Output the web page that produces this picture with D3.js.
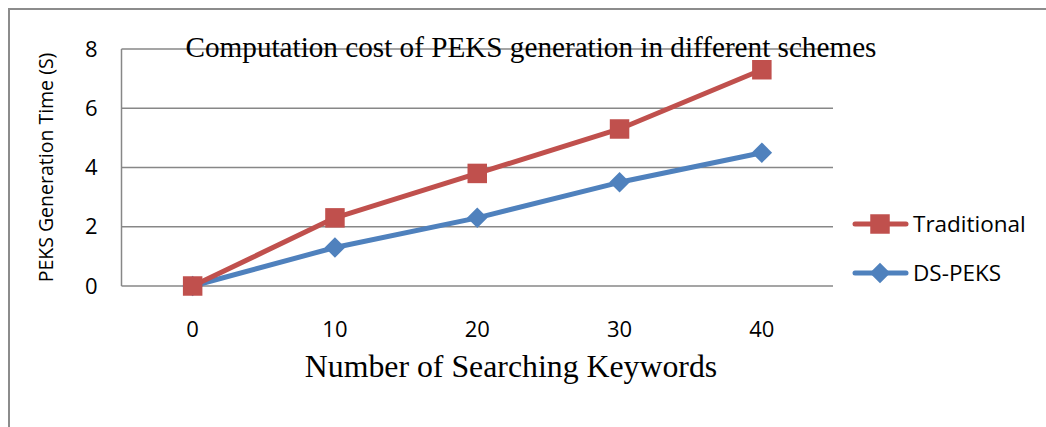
<!DOCTYPE html>
<html><head><meta charset="utf-8">
<script src="https://cdn.jsdelivr.net/npm/d3@7"></script>
<style>body{margin:0;background:#fff}svg{display:block}</style>
</head><body>
<script>
const categories = [0, 10, 20, 30, 40];
const traditional = [0, 2.3, 3.8, 5.3, 7.3];
const dsPeks = [0, 1.3, 2.3, 3.5, 4.5];
const yTicks = [0, 2, 4, 6, 8];
const seriesNames = ["Traditional", "DS-PEKS"];
const titleText = "Computation cost of PEKS generation in different schemes";
const xLabel = "Number of Searching Keywords";
const yLabel = "PEKS Generation Time (S)";

(function () {
const W = 1046, H = 427;
const svg = d3.select("body").append("svg").attr("width", W).attr("height", H);
svg.append("rect").attr("width", W).attr("height", H).attr("fill", "#fff");
svg.append("rect").attr("x", 9).attr("y", 9).attr("width", 1200).attr("height", 600)
  .attr("fill", "none").attr("stroke", "#8c8c8c").attr("stroke-width", 2);

const pl = 121.5, pr = 833, pt = 49, pb = 286;
const x = d3.scaleBand().domain(categories).range([pl, pr]);
const y = d3.scaleLinear().domain([0, 8]).range([pb, pt]);
const sans = "'Open Sans', 'Noto Sans', sans-serif";
const serif = "'Liberation Serif', 'Times New Roman', serif";

svg.append("g").selectAll("line").data(yTicks).join("line")
  .attr("x1", pl).attr("x2", pr).attr("y1", d => y(d)).attr("y2", d => y(d))
  .attr("stroke", "#878787").attr("stroke-width", 1.5);
svg.append("line").attr("x1", pl).attr("x2", pl).attr("y1", pt).attr("y2", pb)
  .attr("stroke", "#878787").attr("stroke-width", 1.5);

const yAxis = d3.axisLeft(y).tickValues(yTicks).tickSize(0).tickPadding(24);
const gy = svg.append("g").attr("transform", `translate(${pl},0)`).call(yAxis);
gy.select(".domain").remove();
gy.selectAll("text").attr("font-family", sans).attr("font-size", 22).attr("fill", "#000");

const xAxis = d3.axisBottom(x).tickSize(0).tickPadding(35);
const gx = svg.append("g").attr("transform", `translate(0,${pb})`).call(xAxis);
gx.select(".domain").remove();
gx.selectAll("text").attr("font-family", sans).attr("font-size", 22).attr("fill", "#000");

svg.append("text").attr("x", 531).attr("y", 57).attr("text-anchor", "middle")
  .attr("font-family", serif).attr("font-size", 29.2).attr("fill", "#000").text(titleText);
svg.append("text").attr("x", 511).attr("y", 377).attr("text-anchor", "middle")
  .attr("font-family", serif).attr("font-size", 31.8).attr("fill", "#000").text(xLabel);
svg.append("text").attr("transform", `translate(53,${(pt + pb) / 2}) rotate(-90)`)
  .attr("text-anchor", "middle").attr("font-family", sans).attr("font-size", 19.5)
  .attr("fill", "#000").text(yLabel);

const colors = ["#C0504D", "#4F81BD"];
const data = [traditional, dsPeks];
const cx = i => x(categories[i]) + x.bandwidth() / 2;
const line = d3.line().x((d, i) => cx(i)).y(d => y(d));

[1, 0].forEach(s => {
  svg.append("path").datum(data[s]).attr("d", line).attr("fill", "none")
    .attr("stroke", colors[s]).attr("stroke-width", 5).attr("stroke-linejoin", "round").attr("stroke-linecap", "round");
});
const sq = d3.symbol().type(d3.symbolSquare).size(380)();
const dm = d3.symbol().type(d3.symbolSquare).size(210)();
const rot = s => s === 1 ? " rotate(45)" : "";
[1, 0].forEach(s => {
  svg.append("g").selectAll("path").data(data[s]).join("path")
    .attr("d", s === 0 ? sq : dm)
    .attr("transform", (d, i) => `translate(${cx(i)},${y(d)})` + rot(s))
    .attr("fill", colors[s]);
});

const legY = [224, 273];
seriesNames.forEach((n, s) => {
  const g = svg.append("g");
  g.append("line").attr("x1", 855).attr("x2", 906).attr("y1", legY[s]).attr("y2", legY[s])
    .attr("stroke", colors[s]).attr("stroke-width", 5).attr("stroke-linecap", "round");
  g.append("path").attr("d", s === 0 ? sq : dm).attr("transform", `translate(880,${legY[s]})` + rot(s)).attr("fill", colors[s]);
  g.append("text").attr("x", 913).attr("y", legY[s]).attr("dy", "0.35em")
    .attr("font-family", sans).attr("font-size", 22.5).attr("fill", "#000").text(n);
});
})();
</script>
</body></html>
